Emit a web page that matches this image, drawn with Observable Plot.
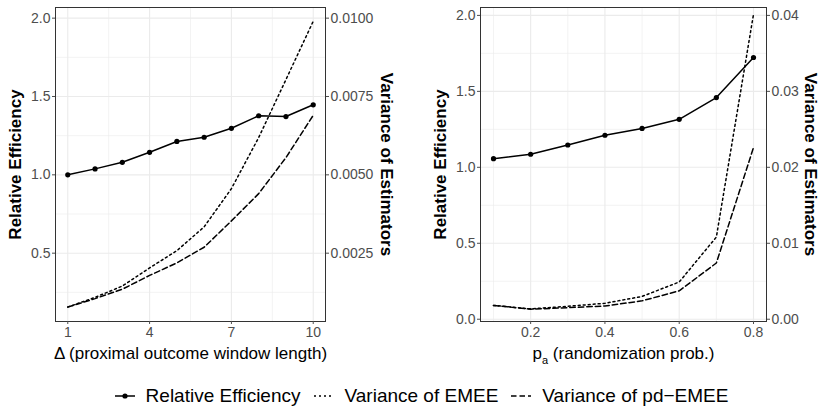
<!DOCTYPE html>
<html><head><meta charset="utf-8">
<script src="https://cdn.jsdelivr.net/npm/d3@7"></script>
<script src="https://cdn.jsdelivr.net/npm/@observablehq/plot@0.6"></script>
<style>
body{margin:0;background:#fff;font-family:'Liberation Sans',Arial,Helvetica,sans-serif;}
#wrap{position:relative;width:830px;height:415px;overflow:hidden;background:#fff;}
#panels{display:flex;}
#legend{position:absolute;left:0;top:385px;width:830px;height:22px;display:flex;justify-content:center;align-items:center;font-size:19px;color:#000;padding-left:8px;box-sizing:border-box;}
.item{display:flex;align-items:center;margin:0 4px;white-space:nowrap;}
.item span{margin-left:6px;}
</style></head><body>
<div id="wrap"><div id="panels"></div><div id="legend"></div></div>
<script>
// ---- data ----
const deltaValues = [1, 2, 3, 4, 5, 6, 7, 8, 9, 10];
const reDelta = [1.000, 1.038, 1.080, 1.144, 1.213, 1.240, 1.297, 1.377, 1.372, 1.447];
const varEmeeDelta = [0.00078, 0.00109, 0.00145, 0.00203, 0.00258, 0.00334, 0.00456, 0.00619, 0.00804, 0.00990];
const varPdDelta = [0.00078, 0.00105, 0.00135, 0.00179, 0.00219, 0.00269, 0.00353, 0.00440, 0.00555, 0.00690];

const paValues = [0.1, 0.2, 0.3, 0.4, 0.5, 0.6, 0.7, 0.8];
const rePa = [1.057, 1.086, 1.147, 1.211, 1.256, 1.316, 1.459, 1.723];
const varEmeePa = [0.00182, 0.00136, 0.00170, 0.00210, 0.00300, 0.00490, 0.01082, 0.04014];
const varPdPa = [0.00182, 0.00132, 0.00152, 0.00174, 0.00242, 0.00374, 0.00740, 0.02260];

// ---- ticks / labels ----
const deltaTicks = [1, 4, 7, 10];
const deltaMinor = [2.5, 5.5, 8.5];
const paTicks = [0.2, 0.4, 0.6, 0.8];
const paMinor = [0.1, 0.3, 0.5, 0.7];
const reTicksDelta = [0.5, 1.0, 1.5, 2.0];
const reTicksPa = [0.0, 0.5, 1.0, 1.5, 2.0];
const reMinor = [0.25, 0.75, 1.25, 1.75];
const varTicksDelta = [0.0025, 0.0050, 0.0075, 0.0100];
const varTicksPa = [0.00, 0.01, 0.02, 0.03, 0.04];
const factorDelta = 0.005;   // secondary axis: variance = RE * factor
const factorPa = 0.02;
const yTitleLeft = "Relative Efficiency";
const yTitleRight = "Variance of Estimators";
const xLabelDelta = "\u0394 (proximal outcome window length)";
const xLabelPa = "pa (randomization prob.)";
const seriesNames = ["Relative Efficiency", "Variance of EMEE", "Variance of pd\u2212EMEE"];

const DOT = "2,3", DASH = "5.5,3";
const FONT = "font-family:'Liberation Sans',Arial,Helvetica,sans-serif;font-size:14px;background:white;overflow:visible;";

function panel(o) {
  const rows = o.x.map((xi, i) => ({x: xi, re: o.re[i], emee: o.emee[i], pd: o.pd[i]}));
  const gridStyle = {stroke: "#ebebeb", strokeOpacity: 1};
  return Plot.plot({
    width: 415, height: 370,
    marginLeft: o.marginLeft, marginRight: o.marginRight, marginTop: 7, marginBottom: 49,
    style: FONT,
    x: {domain: o.xDomain},
    y: {domain: o.yDomain},
    marks: [
      Plot.gridX(o.xMinor, {...gridStyle, strokeWidth: 0.6}),
      Plot.gridY(reMinor, {...gridStyle, strokeWidth: 0.6}),
      Plot.gridX(o.xTicks, {...gridStyle, strokeWidth: 1.1}),
      Plot.gridY(o.reTicks, {...gridStyle, strokeWidth: 1.1}),
      Plot.line(rows, {x: "x", y: d => d.emee / o.factor, stroke: "black", strokeWidth: 1.5, strokeDasharray: DOT}),
      Plot.line(rows, {x: "x", y: d => d.pd / o.factor, stroke: "black", strokeWidth: 1.5, strokeDasharray: DASH}),
      Plot.line(rows, {x: "x", y: "re", stroke: "black", strokeWidth: 1.5}),
      Plot.dot(rows, {x: "x", y: "re", r: 2.6, fill: "black", stroke: "none"}),
      Plot.frame({stroke: "#333", strokeWidth: 1}),
      Plot.axisX(o.xTicks, {tickSize: 3, tickPadding: 3, color: "#4d4d4d", label: null, tickFormat: o.xFormat, fontSize: 14}),
      Plot.axisY(o.reTicks, {anchor: "left", tickSize: 3, tickPadding: 2, color: "#4d4d4d", label: null, tickFormat: d3.format(".1f"), fontSize: 14}),
      Plot.axisY(o.varTicks.map(v => v / o.factor), {anchor: "right", tickSize: 3, tickPadding: 2, color: "#4d4d4d", label: null, tickFormat: d => o.varFormat(d * o.factor), fontSize: 14}),
      Plot.text([yTitleLeft], {text: d => d, frameAnchor: "left", dx: o.leftDx, rotate: -90, textAnchor: "middle", lineAnchor: "middle", fontWeight: "bold", fontSize: 17, fill: "black"}),
      Plot.text([yTitleRight], {text: d => d, frameAnchor: "right", dx: o.rightDx, rotate: 90, textAnchor: "middle", lineAnchor: "middle", fontWeight: "bold", fontSize: 17, fill: "black"}),
      Plot.text([o.xLabel], {text: d => d, frameAnchor: "bottom", dy: 32, textAnchor: "middle", lineAnchor: "middle", fontSize: 17, fill: "black"})
    ]
  });
}

const left = panel({
  x: deltaValues, re: reDelta, emee: varEmeeDelta, pd: varPdDelta, factor: factorDelta,
  xDomain: [0.55, 10.45], yDomain: [0.064, 2.068],
  xTicks: deltaTicks, xMinor: deltaMinor, reTicks: reTicksDelta, varTicks: varTicksDelta,
  xFormat: d3.format("d"), varFormat: d3.format(".4f"), xLabel: xLabelDelta,
  marginLeft: 55, marginRight: 90, leftDx: -40, rightDx: 61
});
const right = panel({
  x: paValues, re: rePa, emee: varEmeePa, pd: varPdPa, factor: factorPa,
  xDomain: [0.065, 0.835], yDomain: [-0.015, 2.052],
  xTicks: paTicks, xMinor: paMinor, reTicks: reTicksPa, varTicks: varTicksPa,
  xFormat: d3.format(".1f"), varFormat: d3.format(".2f"), xLabel: xLabelPa,
  marginLeft: 65, marginRight: 64, leftDx: -40, rightDx: 44
});
document.getElementById("panels").append(left, right);

// subscript "a" in p_a
right.querySelectorAll("text").forEach(t => {
  if (t.textContent === xLabelPa) {
    t.textContent = "";
    const ns = "http://www.w3.org/2000/svg";
    const a = document.createElementNS(ns, "tspan"); a.textContent = "p";
    const b = document.createElementNS(ns, "tspan"); b.textContent = "a"; b.setAttribute("dy", "5"); b.setAttribute("font-size", "11");
    const c = document.createElementNS(ns, "tspan"); c.textContent = xLabelPa.slice(2); c.setAttribute("dy", "-5");
    t.append(a, b, c);
  }
});

// legend
const legend = d3.select("#legend");
const styles = [
  {dash: null, dot: true},
  {dash: DOT, dot: false},
  {dash: DASH, dot: false}
];
seriesNames.forEach((name, i) => {
  const item = legend.append("div").attr("class", "item");
  const svg = item.append("svg").attr("width", 30).attr("height", 20);
  svg.append("line").attr("x1", 5).attr("x2", 25).attr("y1", 10).attr("y2", 10)
    .attr("stroke", "black").attr("stroke-width", 1.5)
    .attr("stroke-dasharray", styles[i].dash);
  if (styles[i].dot) svg.append("circle").attr("cx", 15).attr("cy", 10).attr("r", 2.6).attr("fill", "black");
  item.append("span").text(name);
});
</script>
</body></html>
